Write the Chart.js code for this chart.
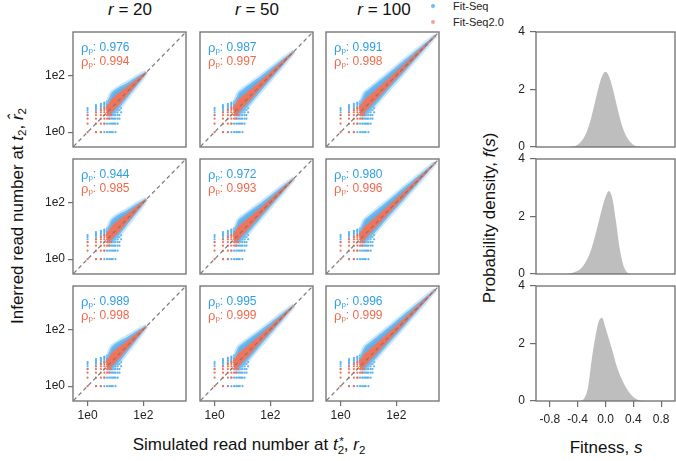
<!DOCTYPE html>
<html>
<head>
<meta charset="utf-8">
<script src="https://cdn.jsdelivr.net/npm/chart.js@4.4.1/dist/chart.umd.min.js"></script>
<style>
  body { margin: 0; width: 676px; height: 461px; overflow: hidden; position: relative; background: #fff;
         font-family: 'Liberation Sans', Arial, sans-serif; color: #111; }
  canvas { position: absolute; }
  .lbl { position: absolute; white-space: nowrap; font-size: 17px; line-height: 1; transform: translate(-50%, -50%); }
  .rot { transform: translate(-50%, -50%) rotate(-90deg); }
  .lbl sub { font-size: 0.68em; vertical-align: -0.3em; }
  .lbl sup { font-size: 0.68em; vertical-align: 0.5em; }
  .leg { position: absolute; font-size: 11px; line-height: 1; transform: translateY(-50%); color: #222; }
  .dot { position: absolute; width: 4px; height: 4px; border-radius: 50%; transform: translate(-50%, -50%); }
</style>
</head>
<body>
<div class="lbl" style="left:130px;top:9px"><i>r</i> = 20</div>
<div class="lbl" style="left:257px;top:9px"><i>r</i> = 50</div>
<div class="lbl" style="left:384px;top:9px"><i>r</i> = 100</div>

<div class="dot" style="left:433px;top:6px;background:#6cbcf2"></div>
<div class="leg" style="left:453px;top:6px">Fit-Seq</div>
<div class="dot" style="left:433px;top:22px;background:#f6a392"></div>
<div class="leg" style="left:453px;top:22px">Fit-Seq2.0</div>

<div class="lbl rot" style="left:19px;top:216px">Inferred read number at <i>t</i><sub>2</sub>, <i>r&#770;</i><sub>2</sub></div>
<div class="lbl" style="left:249px;top:446px">Simulated read number at <i>t</i><sub>2</sub><sup style="margin-left:-0.42em">*</sup>, <i>r</i><sub>2</sub></div>
<div class="lbl rot" style="left:489px;top:218px">Probability density, <i>f</i>(<i>s</i>)</div>
<div class="lbl" style="left:606px;top:447px">Fitness, <i>s</i></div>

<script>
// Pearson correlation shown in each panel (rows x columns r = 20, 50, 100)
const rhoFitSeq  = [["0.976", "0.987", "0.991"], ["0.944", "0.972", "0.980"], ["0.989", "0.995", "0.996"]];
const rhoFitSeq2 = [["0.994", "0.997", "0.998"], ["0.985", "0.993", "0.996"], ["0.998", "0.999", "0.999"]];

// scatter cloud outline per column: x values and log10 distance of the cloud edge from y = x
const cloudX = [
  [5, 7, 10, 16, 25, 40, 63, 100, 130],
  [5, 7, 10, 20, 40, 80, 160, 320, 500, 700],
  [5, 7, 10, 25, 63, 160, 400, 1000, 1600, 2500]
];
const blueHi = [
  [0.3, 0.52, 0.5, 0.42, 0.33, 0.25, 0.17, 0.08, 0],
  [0.3, 0.52, 0.5, 0.42, 0.33, 0.26, 0.19, 0.12, 0.06, 0],
  [0.3, 0.52, 0.5, 0.42, 0.34, 0.27, 0.19, 0.11, 0.06, 0]
];
const blueLo = [
  [-0.12, -0.26, -0.3, -0.27, -0.22, -0.17, -0.12, -0.06, 0],
  [-0.12, -0.26, -0.3, -0.27, -0.22, -0.18, -0.13, -0.08, -0.04, 0],
  [-0.12, -0.26, -0.3, -0.27, -0.22, -0.18, -0.13, -0.08, -0.04, 0]
];
const redHi = [
  [0.18, 0.28, 0.27, 0.22, 0.17, 0.12, 0.08, 0.04, 0],
  [0.18, 0.28, 0.26, 0.2, 0.15, 0.11, 0.08, 0.05, 0.03, 0],
  [0.17, 0.27, 0.25, 0.19, 0.14, 0.1, 0.07, 0.04, 0.02, 0]
];
const redLo = [
  [-0.06, -0.14, -0.15, -0.13, -0.1, -0.08, -0.05, -0.03, 0],
  [-0.06, -0.14, -0.14, -0.12, -0.09, -0.07, -0.05, -0.03, -0.02, 0],
  [-0.06, -0.13, -0.13, -0.11, -0.09, -0.07, -0.05, -0.03, -0.01, 0]
];

// low read counts show up as separate dots on the integer grid
const lowBlue = [
  [1,4],[1,5],[1,6],[1,7],
  [2,1],[2,5],[2,6],[2,7],[2,8],[2,9],
  [3,1],[3,6],[3,7],[3,8],[3,9],[3,10],
  [4,1],[4,2],[4,7],[4,8],[4,9],[4,10],[4,11],
  [5,1],[5,2],[5,8],[5,9],[5,10],[5,12],
  [6,1],[6,2],[6,3],[6,9],[6,10],[6,12],[6,14],
  [7,1],[7,2],[7,3],[7,11],[7,13],[7,15],
  [8,1],[8,2],[8,3],[8,4],
  [9,2],[9,3],[9,4],[9,5],
  [10,1],[10,2],[10,3],[10,4],[10,5],
  [12,2],[12,3],[12,4],[12,5],[12,6],
  [14,3],[14,4],[14,6],
  [16,5],[16,7]
];
const lowRed = [
  [1,1],[1,2],[1,3],[1,4],
  [2,1],[2,2],[2,3],[2,4],[2,5],
  [3,1],[3,2],[3,3],[3,4],[3,5],[3,6],
  [4,2],[4,3],[4,4],[4,5],[4,6],[4,7],
  [5,3],[5,4],[5,5],[5,6],[5,7],[5,8],
  [6,3],[6,4],[6,5],[6,6],[6,7],[6,8],[6,9],
  [7,4],[7,5],[7,6],[7,8],[7,9],[7,10]
];

// fitness distributions, one per row
const sVals = [-0.6, -0.55, -0.5, -0.45, -0.4, -0.35, -0.3, -0.25, -0.2, -0.15, -0.1, -0.05, 0,
               0.05, 0.1, 0.15, 0.2, 0.25, 0.3, 0.35, 0.4, 0.45, 0.5, 0.55, 0.6];
const densTop = [0, 0, 0.01, 0.03, 0.08, 0.19, 0.37, 0.66, 1.07, 1.57, 2.07, 2.46, 2.62,
                 2.46, 2.07, 1.57, 1.07, 0.66, 0.37, 0.19, 0.08, 0.03, 0.01, 0, 0];
const densMid = [0, 0.01, 0.03, 0.06, 0.11, 0.2, 0.36, 0.58, 0.9, 1.32, 1.8, 2.28, 2.68,
                 2.89, 2.62, 1.85, 0.95, 0.36, 0.09, 0.01, 0, 0, 0, 0, 0];
const densBot = [0, 0, 0, 0, 0, 0.01, 0.12, 0.5, 1.42, 2.18, 2.75, 2.9, 2.55,
                 2.15, 1.75, 1.3, 0.95, 0.68, 0.45, 0.27, 0.14, 0.06, 0.02, 0, 0];
const densities = [densTop, densMid, densBot];

const readTicks = [1, 100];
const sTicks = [-0.8, -0.4, 0, 0.4, 0.8];
const densTicks = [0, 2, 4];

const BLUE = "#2f9ee6", RED = "#f06a4e";
const FONT = "'Liberation Sans', Arial, sans-serif";
Chart.defaults.font.family = FONT;
Chart.defaults.color = "#222";

const PW = 115, PH = 115, YW = 52, XH = 30, TOP = 8;
const colLeft = [73, 200, 326];
const rowTop = [32, 159, 286];

const framePlugin = {
  id: "frame",
  afterDraw(chart) {
    const a = chart.chartArea, c = chart.ctx;
    c.save();
    c.strokeStyle = "#6e6e6e";
    c.lineWidth = 1.3;
    c.strokeRect(a.left, a.top, a.right - a.left, a.bottom - a.top);
    c.restore();
  }
};

const rhoPlugin = {
  id: "rho",
  afterDatasetsDraw(chart, args, opts) {
    if (!opts.values) return;
    const c = chart.ctx, a = chart.chartArea;
    c.save();
    c.textBaseline = "middle";
    opts.values.forEach((v, i) => {
      let x = a.left + 8;
      const y = a.top + 16 + i * 14;
      c.fillStyle = opts.colors[i];
      c.font = "13px " + FONT;
      c.fillText("\u03c1", x, y);
      x += c.measureText("\u03c1").width;
      c.font = "8px " + FONT;
      c.fillText("p", x, y + 3);
      x += c.measureText("p").width;
      c.font = "12px " + FONT;
      c.fillText(": " + v, x, y);
    });
    c.restore();
  }
};

function fixSize(pos, size) {
  return s => {
    if (pos === "left") s.width = size; else s.height = size;
    s.paddingTop = s.paddingBottom = s.paddingLeft = s.paddingRight = 0;
  };
}

function readAxis(show, pos) {
  return {
    type: "logarithmic", position: pos, min: 0.316, max: 3400,
    afterBuildTicks: s => { s.ticks = readTicks.map(v => ({ value: v })); },
    afterFit: fixSize(pos, pos === "left" ? YW : XH),
    grid: { display: show, drawOnChartArea: false, drawTicks: true, tickLength: 5, color: "#6e6e6e", lineWidth: 1.2 },
    border: { display: false },
    ticks: { display: show, padding: pos === "left" ? 3 : 2, font: { size: 12 }, autoSkip: false, maxRotation: 0,
             callback: v => "1e" + Math.round(Math.log10(v)) }
  };
}

function makeCanvas(left, top, w, h) {
  const cv = document.createElement("canvas");
  cv.width = w; cv.height = h;
  cv.style.left = left + "px"; cv.style.top = top + "px";
  document.body.appendChild(cv);
  return cv;
}

function edgeSet(xs, offs) {
  return xs.map((x, i) => ({ x: x, y: x * Math.pow(10, offs[i]) }));
}

function lineSet(data, extra) {
  return Object.assign({ data: data, pointRadius: 0, borderWidth: 0, fill: false, tension: 0.3 }, extra);
}

for (let r = 0; r < 3; r++) {
  for (let c = 0; c < 3; c++) {
    const cv = makeCanvas(colLeft[c] - YW, rowTop[r] - TOP, YW + PW + 2, TOP + PH + XH);
    new Chart(cv, {
      type: "line",
      data: {
        datasets: [
          lineSet([{ x: 0.316, y: 0.316 }, { x: 3400, y: 3400 }],
                  { borderColor: "#7a7a7a", borderWidth: 1.2, borderDash: [4, 3], tension: 0 }),
          lineSet(edgeSet(cloudX[c], redLo[c]), { borderColor: "rgba(242,120,95,0.6)", borderWidth: 1.5 }),
          lineSet(edgeSet(cloudX[c], redHi[c]), { borderColor: "rgba(242,120,95,0.6)", borderWidth: 1.5,
                                                  fill: "-1", backgroundColor: "#f2735a" }),
          { data: lowRed.map(p => ({ x: p[0], y: p[1] })), showLine: false, pointRadius: 1.1,
            pointBorderWidth: 0, pointBackgroundColor: "#f07058" },
          lineSet(edgeSet(cloudX[c], blueLo[c]), { borderColor: "rgba(140,200,244,0.45)", borderWidth: 4 }),
          lineSet(edgeSet(cloudX[c], blueHi[c]), { borderColor: "rgba(140,200,244,0.45)", borderWidth: 4,
                                                   fill: "-1", backgroundColor: "#5cb2ed" }),
          { data: lowBlue.map(p => ({ x: p[0], y: p[1] })), showLine: false, pointRadius: 1.1,
            pointBorderWidth: 0, pointBackgroundColor: "#5ab2ee" }
        ]
      },
      options: {
        responsive: false, animation: false, events: [],
        layout: { padding: { top: TOP, right: 2, left: 0, bottom: 0 } },
        plugins: {
          legend: { display: false }, tooltip: { enabled: false },
          rho: { values: [rhoFitSeq[r][c], rhoFitSeq2[r][c]], colors: [BLUE, RED] }
        },
        scales: { x: readAxis(r === 2, "bottom"), y: readAxis(c === 0, "left") }
      },
      plugins: [framePlugin, rhoPlugin]
    });
  }
}

const DL = 536, DW = 139, DYW = 40;
for (let r = 0; r < 3; r++) {
  const cv = makeCanvas(DL - DYW, rowTop[r] - TOP, DYW + DW + 1, TOP + PH + XH);
  new Chart(cv, {
    type: "line",
    data: {
      datasets: [{
        data: sVals.map((s, i) => ({ x: s, y: densities[r][i] })),
        fill: "origin", backgroundColor: "#bebebe", borderColor: "rgba(0,0,0,0)", borderWidth: 0,
        pointRadius: 0, cubicInterpolationMode: "monotone"
      }]
    },
    options: {
      responsive: false, animation: false, events: [],
      layout: { padding: { top: TOP, right: 1, left: 0, bottom: 0 } },
      plugins: { legend: { display: false }, tooltip: { enabled: false } },
      scales: {
        x: {
          type: "linear", min: -1, max: 1,
          afterBuildTicks: s => { s.ticks = sTicks.map(v => ({ value: v })); },
          afterFit: fixSize("bottom", XH),
          grid: { display: r === 2, drawOnChartArea: false, tickLength: 6, color: "#6e6e6e", lineWidth: 1.2 },
          border: { display: false },
          ticks: { display: r === 2, padding: 5, font: { size: 12 }, maxRotation: 0, autoSkip: false,
                   callback: v => v.toFixed(1) }
        },
        y: {
          min: 0, max: 4,
          afterBuildTicks: s => { s.ticks = densTicks.map(v => ({ value: v })); },
          afterFit: fixSize("left", DYW),
          grid: { drawOnChartArea: false, tickLength: 6, color: "#6e6e6e", lineWidth: 1.2 },
          border: { display: false },
          ticks: { padding: 5, font: { size: 12 }, autoSkip: false }
        }
      }
    },
    plugins: [framePlugin]
  });
}
</script>
</body>
</html>
